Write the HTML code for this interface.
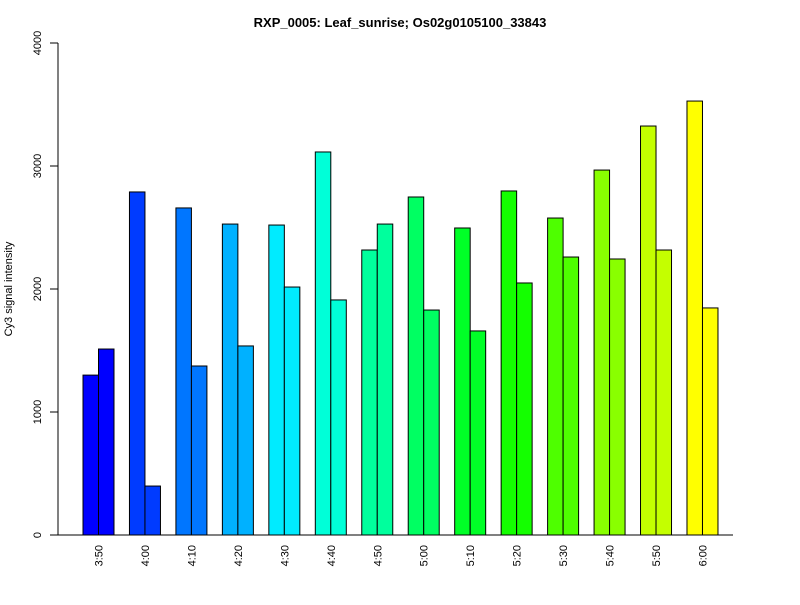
<!DOCTYPE html>
<html><head><meta charset="utf-8"><style>
body{margin:0;background:#fff;font-family:"Liberation Sans",Arial,sans-serif}
</style></head><body>
<svg id="chart" width="800" height="600" xmlns="http://www.w3.org/2000/svg" font-family="Liberation Sans, Arial, sans-serif">
<rect width="800" height="600" fill="#fff"/>
<text x="400" y="27" text-anchor="middle" font-size="13" font-weight="bold">RXP_0005: Leaf_sunrise; Os02g0105100_33843</text>
<text transform="translate(12,289) rotate(-90)" text-anchor="middle" font-size="11">Cy3 signal intensity</text>
<g id="axes"></g>
<g id="bars"></g>
</svg>
<script>
const categories=["3:50","4:00","4:10","4:20","4:30","4:40","4:50","5:00","5:10","5:20","5:30","5:40","5:50","6:00"];
const series1=[1300,2789,2659,2528,2520,3114,2317,2748,2496,2797,2577,2967,3325,3528];
const series2=[1512,398,1374,1537,2016,1911,2528,1829,1659,2049,2260,2244,2317,1846];
const yTicks=[0,1000,2000,3000,4000];
const NS="http://www.w3.org/2000/svg";
const y0=535,y1=43,ymax=4000;
const yScale=v=>y0-(v/ymax)*(y0-y1);
const x0=83,groupStep=46.46,barW=15.5;
const xScale=i=>x0+i*groupStep;
function mk(tag,attrs,parent){const e=document.createElementNS(NS,tag);for(const k in attrs)e.setAttribute(k,attrs[k]);parent.appendChild(e);return e;}
const axes=document.getElementById('axes'),bars=document.getElementById('bars');
let a=mk('line',{x1:58,y1:yScale(0),x2:58,y2:yScale(4000),stroke:'#000'},axes);


let b=mk('line',{x1:58,y1:535,x2:733,y2:535,stroke:'#000'},axes);


yTicks.forEach(t=>{
  const y=yScale(t);
  const tk=mk('line',{x1:50,y1:y,x2:58,y2:y,stroke:'#000'},axes);
  
  
  const tx=mk('text',{transform:`translate(41,${y}) rotate(-90)`,'text-anchor':'middle','font-size':11},axes);
  tx.textContent=t;
  
  
});
const n=categories.length;
categories.forEach((c,i)=>{
  const hue=240-i*(180/(n-1));
  const col=`hsl(${hue},100%,50%)`;
  const x=xScale(i);
  [series1[i],series2[i]].forEach((v,j)=>{
    const r=mk('rect',{x:x+j*barW,y:yScale(v),width:barW,height:y0-yScale(v),fill:col,stroke:'#000','stroke-width':1},bars);
    
    
  });
  const tx=mk('text',{transform:`translate(${x+barW+4},545) rotate(-90)`,'text-anchor':'end','font-size':11},axes);
  tx.textContent=c;
  
  
});
</script>
</body></html>
